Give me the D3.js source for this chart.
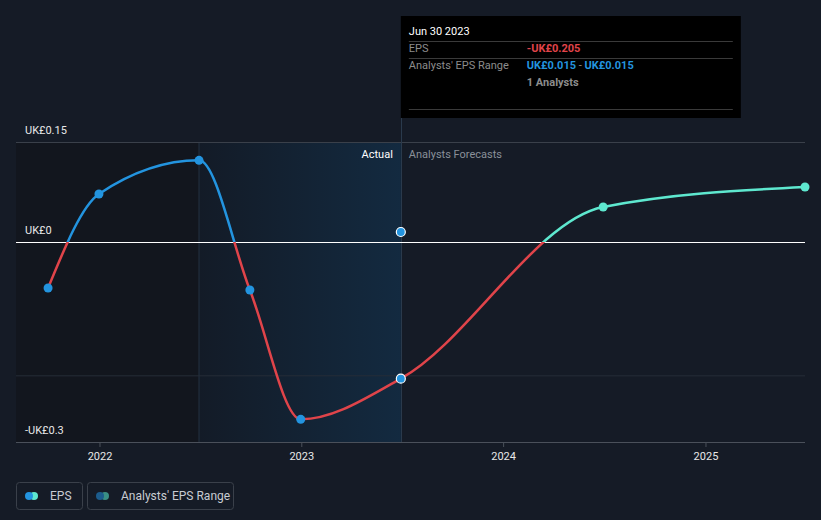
<!DOCTYPE html>
<html><head><meta charset="utf-8">
<script src="https://cdn.jsdelivr.net/npm/d3@7/dist/d3.min.js"></script>
<style>body{margin:0;background:#151b26;}svg{display:block;font-family:Roboto,"Noto Sans",sans-serif;}</style>
</head><body><svg id="c" width="821" height="520"></svg>
<script>
const actualDates = ["2021-09-30","2021-12-31","2022-06-30","2022-09-30","2022-12-31","2023-06-30"];
const actualEPS = [-0.069, 0.072, 0.1225, -0.072, -0.266, -0.205];
const forecastDates = ["2023-06-30","2024-06-30","2025-06-30"];
const forecastEPS = [-0.205, 0.0525, 0.0825];
const rangeDate = "2023-06-30";
const rangeEPS = 0.015;
const yTicks = [0.15, 0, -0.3];
const yTickLabels = ["UK£0.15","UK£0","-UK£0.3"];
const xTickYears = ["2022","2023","2024","2025"];

const P = d3.timeParse("%Y-%m-%d");
const svg = d3.select("#c");
const L = 16, R = 805, T = 142, B = 442;
const x = d3.scaleTime().domain([P("2021-08-03"), P("2025-06-30")]).range([L, R]);
const y = d3.scaleLinear().domain([-0.3, 0.15]).range([B, T]);
const today = x(P(rangeDate));
const pastStart = x(P("2022-06-30"));

const defs = svg.append("defs");
const g = defs.append("linearGradient").attr("id","hl").attr("x1","0").attr("x2","1");
g.append("stop").attr("offset","0").attr("stop-color","#131b27");
g.append("stop").attr("offset","1").attr("stop-color","#132a40");

// regions
svg.append("rect").attr("x",L).attr("y",T).attr("width",pastStart-L).attr("height",B-T).attr("fill","#12161e");
svg.append("rect").attr("x",pastStart).attr("y",T).attr("width",today-pastStart).attr("height",B-T).attr("fill","url(#hl)");
svg.append("line").attr("x1",pastStart).attr("x2",pastStart).attr("y1",T).attr("y2",B).attr("stroke","#223040").attr("stroke-width",1);

// gridlines
svg.append("line").attr("x1",L).attr("x2",R).attr("y1",y(0.15)+0.5).attr("y2",y(0.15)+0.5).attr("stroke","#3a404a");
svg.append("line").attr("x1",L).attr("x2",R).attr("y1",y(-0.2)+0.5).attr("y2",y(-0.2)+0.5).attr("stroke","#262d38");

// today line
svg.append("line").attr("x1",Math.round(today)+0.5).attr("x2",Math.round(today)+0.5).attr("y1",118).attr("y2",B).attr("stroke","#2a3a4c");

// zero line
svg.append("line").attr("x1",L).attr("x2",R).attr("y1",y(0)+0.5).attr("y2",y(0)+0.5).attr("stroke","#ffffff").attr("stroke-width",1);

// y labels
svg.selectAll(".yl").data(yTicks).enter().append("text")
  .attr("x",25).attr("y",d=>y(d)-8).attr("fill","#e8e8e8").attr("font-size",11).text((d,i)=>yTickLabels[i]);

// x axis
const xa = svg.append("g").attr("transform",`translate(0,${B})`)
  .call(d3.axisBottom(x).tickValues(xTickYears.map(s=>P(s+"-01-01"))).tickFormat(d3.timeFormat("%Y")).tickSize(5).tickSizeOuter(0));
xa.select(".domain").attr("stroke","#4a505a").attr("d",`M${L},0.5H${R}`);
xa.selectAll(".tick line").attr("stroke","#4a505a");
xa.selectAll(".tick text").attr("fill","#e8e8e8").attr("font-size",11).attr("font-family","Roboto,sans-serif").attr("dy","0.9em");

// labels
svg.append("text").attr("x",today-8).attr("y",158).attr("text-anchor","end").attr("fill","#ffffff").attr("font-size",11).text("Actual");
svg.append("text").attr("x",today+8).attr("y",158).attr("fill","#8a9099").attr("font-size",11).text("Analysts Forecasts");

// line
const allDates = actualDates.concat(forecastDates.slice(1)).map(P);
const allVals = actualEPS.concat(forecastEPS.slice(1));
const pts = allDates.map((d,i)=>[x(d), y(allVals[i])]);
const line = d3.line().curve(d3.curveMonotoneX);
const pathD = line(pts);
function clip(id, x0, y0, w, h){ defs.append("clipPath").attr("id",id).append("rect").attr("x",x0).attr("y",y0).attr("width",w).attr("height",h); }
clip("posA", 0, 0, today, y(0));
clip("posF", today, 0, 821-today, y(0));
clip("neg", 0, y(0), 821, 520);
svg.append("path").attr("d",pathD).attr("fill","none").attr("stroke","#2394df").attr("stroke-width",2.5).attr("clip-path","url(#posA)");
svg.append("path").attr("d",pathD).attr("fill","none").attr("stroke","#5ee8cf").attr("stroke-width",2.5).attr("clip-path","url(#posF)");
svg.append("path").attr("d",pathD).attr("fill","none").attr("stroke","#e0444a").attr("stroke-width",2.5).attr("clip-path","url(#neg)");

// points
svg.selectAll(".pa").data(actualDates).enter().append("circle")
  .attr("cx",d=>x(P(d))).attr("cy",(d,i)=>y(actualEPS[i])).attr("r",4.5)
  .attr("fill","#2394df").attr("stroke",(d,i)=>i===actualDates.length-1?"#ffffff":"none").attr("stroke-width",1.2);
svg.selectAll(".pf").data(forecastDates.slice(1)).enter().append("circle")
  .attr("cx",d=>x(P(d))).attr("cy",(d,i)=>y(forecastEPS[i+1])).attr("r",4.5).attr("fill","#5ee8cf");
svg.append("circle").attr("cx",x(P(rangeDate))).attr("cy",y(rangeEPS)).attr("r",4.5).attr("fill","#2394df").attr("stroke","#ffffff").attr("stroke-width",1.2);

// tooltip
const tt = svg.append("g");
tt.append("rect").attr("x",today).attr("y",16).attr("width",340).attr("height",102).attr("fill","#000000");
[41,58,109].forEach(yy=>tt.append("line").attr("x1",today+8).attr("x2",today+332).attr("y1",yy+0.5).attr("y2",yy+0.5).attr("stroke","#3a3a3a"));
tt.append("text").attr("x",today+8).attr("y",35).attr("fill","#ffffff").attr("font-size",11).text("Jun 30 2023");
tt.append("text").attr("x",today+8).attr("y",52).attr("fill","#8c8c8c").attr("font-size",11).text("EPS");
tt.append("text").attr("x",today+126).attr("y",52).attr("fill","#e0444a").attr("font-size",11).attr("font-weight","bold").text("-UK£0.205");
tt.append("text").attr("x",today+8).attr("y",69).attr("fill","#8c8c8c").attr("font-size",11).text("Analysts' EPS Range");
const rt = tt.append("text").attr("x",today+126).attr("y",69).attr("font-size",11).attr("font-weight","bold");
rt.append("tspan").attr("fill","#2394df").text("UK£0.015");
rt.append("tspan").attr("fill","#8c8c8c").attr("font-weight","normal").text(" - ");
rt.append("tspan").attr("fill","#2394df").text("UK£0.015");
tt.append("text").attr("x",today+126).attr("y",86).attr("fill","#8c8c8c").attr("font-size",11).attr("font-weight","bold").text("1 Analysts");

// legend
const legend = [
  {label:"EPS", x:16, w:66, c1:"#2394df", c2:"#5ee8cf"},
  {label:"Analysts' EPS Range", x:87, w:146, c1:"#1c5c8c", c2:"#3a8f84"}
];
legend.forEach(l=>{
  const lg = svg.append("g");
  lg.append("rect").attr("x",l.x+0.5).attr("y",482.5).attr("width",l.w).attr("height",27).attr("rx",3).attr("fill","none").attr("stroke","#3a404a");
  lg.append("circle").attr("cx",l.x+18).attr("cy",496).attr("r",4).attr("fill",l.c2);
  lg.append("circle").attr("cx",l.x+13).attr("cy",496).attr("r",4).attr("fill",l.c1);
  lg.append("text").attr("x",l.x+34).attr("y",500).attr("fill","#c8ccd2").attr("font-size",12).text(l.label);
});
</script></body></html>
